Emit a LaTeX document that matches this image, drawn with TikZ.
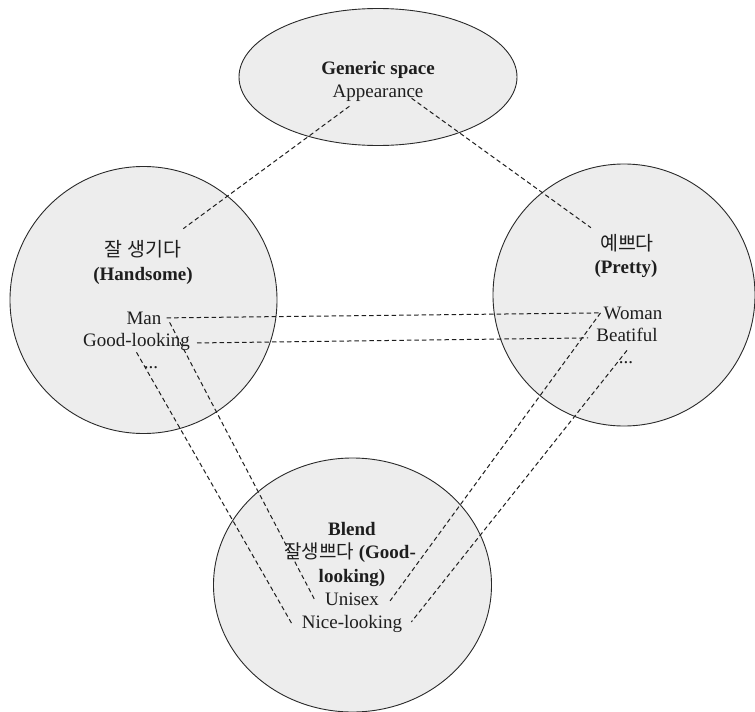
\documentclass[tikz,border=0pt]{standalone}
\usepackage{fontspec}
\setmainfont{Liberation Serif}
\newfontfamily\kofont{Noto Sans CJK KR}
\usetikzlibrary{shapes.geometric}
\definecolor{spacefill}{HTML}{EDEDED}
\definecolor{rimcol}{HTML}{2A2A2A}
\definecolor{inkcol}{HTML}{1E1E1E}
\begin{document}
\begin{tikzpicture}[x=1pt,y=-1pt,
  space/.style={draw=rimcol, line width=0.9pt, fill=spacefill, inner sep=0pt},
  lbl/.style={inner sep=0pt, anchor=base, text=inkcol, font=\fontsize{19}{22}\selectfont},
  head/.style={lbl, font=\fontsize{19}{22}\selectfont\bfseries},
  ko/.style={lbl, font=\fontsize{19.5}{22}\selectfont\kofont},
  link/.style={draw=inkcol, line width=1pt, dash pattern=on 4.5pt off 3pt}]
\useasboundingbox (0,0) rectangle (755,712);

% the four mental spaces
\node[space, ellipse, minimum width=278pt, minimum height=137pt] (gen) at (378,77) {};
\node[space, circle, minimum size=267pt] (hand) at (143.5,300) {};
\node[space, circle, minimum size=262pt] (pretty) at (624,295) {};
\node[space, ellipse, minimum width=278pt, minimum height=254pt] (blend) at (352.5,585) {};

% generic space
\node[head] (genT) at (378,74) {Generic space};
\node[lbl]  (genA) at (378,97) {Appearance};

% input space 1
\node[ko]   (hsKo)   at (143,256) {잘 생기다};
\node[head] (hsEn)   at (143,280) {(Handsome)};
\node[lbl]  (man)    at (144,324) {Man};
\node[lbl]  (goodl)  at (136.5,346) {Good-looking};
\node[lbl]  (hsDots) at (151,368) {...};

% input space 2
\node[ko]   (prKo)   at (627,250) {예쁘다};
\node[head] (prEn)   at (626,273) {(Pretty)};
\node[lbl]  (woman)  at (633,319) {Woman};
\node[lbl]  (beat)   at (627,341) {Beatiful};
\node[lbl]  (prDots) at (626,363) {...};

% blended space
\node[head] (blT)    at (352,535) {Blend};
\node[lbl]  (blKo)   at (350,558) {{\kofont 잘생쁘다} \textbf{(Good-}};
\node[head] (blEn)   at (352,582) {looking)};
\node[lbl]  (unisex) at (352,605) {Unisex};
\node[lbl]  (nicel)  at (352,628) {Nice-looking};

% cross-space mappings
\draw[link] ([xshift=17pt,yshift=-5pt]genA.south west) -- ([xshift=2pt,yshift=11pt]hsKo.north east);
\draw[link] ([xshift=-12pt,yshift=3pt]genA.south east) -- ([xshift=-9pt,yshift=6pt]prKo.north west);
\draw[link] ([xshift=5pt]man.east) -- ([xshift=-4pt]woman.west);
\draw[link] ([xshift=7pt,yshift=-1.5pt]goodl.east) -- ([xshift=-8pt,yshift=-3.5pt]beat.west);
\draw[link] ([xshift=8pt,yshift=2pt]man.south east) -- ([xshift=-10pt,yshift=-1.3pt]unisex.west);
\draw[link] ([yshift=-2pt]goodl.south) -- ([xshift=-10pt]nicel.west);
\draw[link] ([xshift=-3pt]woman.west) -- ([xshift=11pt,yshift=-2pt]unisex.east);
\draw[link] ([yshift=-9pt]beat.south) -- ([xshift=9pt,yshift=1.5pt]nicel.east);
\end{tikzpicture}
\end{document}
